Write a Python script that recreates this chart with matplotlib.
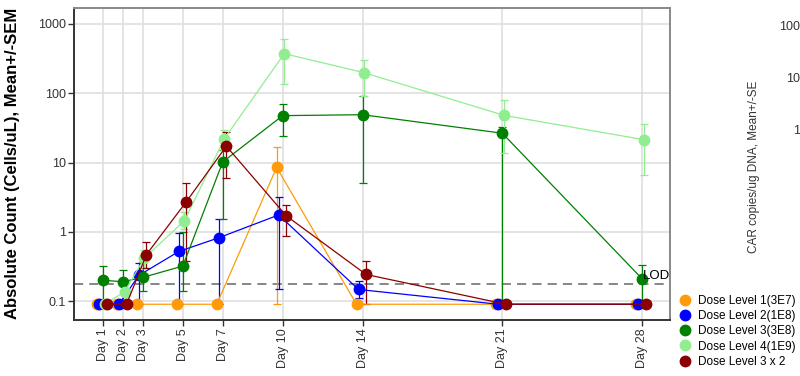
import matplotlib
matplotlib.use("Agg")
import matplotlib.pyplot as plt
from matplotlib.lines import Line2D
import numpy as np

plt.rcParams['font.family'] = ['Liberation Sans', 'DejaVu Sans']

days = [1, 2, 3, 5, 7, 10, 14, 21, 28]
day_labels = ['Day 1', 'Day 2', 'Day 3', 'Day 5', 'Day 7', 'Day 10', 'Day 14', 'Day 21', 'Day 28']

names = ['Dose Level 1(3E7)', 'Dose Level 2(1E8)', 'Dose Level 3(3E8)',
         'Dose Level 4(1E9)', 'Dose Level 3 x 2']
colors = ['#FF9A0A', '#0000FF', '#008000', '#90EE90', '#8B0000']
offsets = [-0.3, -0.2, 0.0, 0.08, 0.18]

# mean, lower bar end, upper bar end
dl1 = [0.09, 0.09, 0.09, 0.09, 0.09, 8.5, 0.09, 0.09, 0.09]
dl1_lo = [0.09, 0.09, 0.09, 0.09, 0.09, 0.09, 0.09, 0.09, 0.09]
dl1_hi = [0.09, 0.09, 0.09, 0.09, 0.09, 17, 0.09, 0.09, 0.09]

dl2 = [0.09, 0.09, 0.235, 0.52, 0.82, 1.75, 0.147, 0.09, 0.09]
dl2_lo = [0.09, 0.09, 0.09, 0.09, 0.09, 0.15, 0.11, 0.09, 0.09]
dl2_hi = [0.09, 0.09, 0.36, 0.95, 1.55, 3.2, 0.196, 0.09, 0.09]

dl3 = [0.2, 0.19, 0.22, 0.32, 10.2, 47.5, 49, 26.5, 0.21]
dl3_lo = [0.09, 0.09, 0.14, 0.14, 1.55, 24.5, 5.1, 0.09, 0.09]
dl3_hi = [0.32, 0.28, 0.37, 1.0, 15, 70, 91, 33, 0.33]

dl4 = [0.09, 0.136, 0.42, 1.44, 22, 373, 198, 48, 21.4]
dl4_lo = [0.09, 0.1, 0.3, 1.1, 15, 135, 90, 13.5, 6.7]
dl4_hi = [0.09, 0.18, 0.55, 1.9, 29, 612, 306, 81, 36]

dl32 = [0.09, 0.09, 0.47, 2.73, 17.2, 1.7, 0.242, 0.09, 0.09]
dl32_lo = [0.09, 0.09, 0.3, 0.38, 6.0, 0.86, 0.09, 0.09, 0.09]
dl32_hi = [0.09, 0.09, 0.71, 5.1, 28, 2.45, 0.38, 0.09, 0.09]

series = [(dl1, dl1_lo, dl1_hi), (dl2, dl2_lo, dl2_hi), (dl3, dl3_lo, dl3_hi),
          (dl4, dl4_lo, dl4_hi), (dl32, dl32_lo, dl32_hi)]
lod = 0.177

fig = plt.figure(figsize=(8, 3.76), dpi=100)
ax = fig.add_axes([74/800, 1-320/376, (670-74)/800, (320-8)/376])

for (y, lo, hi), c, off in zip(series, colors, offsets):
    y = np.array(y)
    yerr = [y - np.array(lo), np.array(hi) - y]
    ax.errorbar(np.array(days) + off, y, yerr=yerr, color=c, ecolor=c,
                marker='o', ms=7.5, lw=0.9, elinewidth=0.9, capsize=3,
                capthick=0.9, zorder=3)

ax.axhline(lod, color='#666666', lw=1.1, ls=(0, (6, 4)), zorder=2)
ax.text(28.05, 0.207, 'LOD', ha='left', va='baseline', fontsize=9.5, zorder=5)

ax.set_yscale('log')
ax.set_ylim(0.0533, 1700)
ax.set_xlim(-0.45, 29.4)
ax.set_yticks([0.1, 1, 10, 100, 1000])
ax.set_yticklabels(['0.1', '1', '10', '100', '1000'])
ax.yaxis.set_minor_locator(matplotlib.ticker.NullLocator())
ax.set_xticks(days)
ax.set_xticklabels(day_labels, rotation=90)
ax.tick_params(labelsize=9, colors='#333333', length=4, width=1, pad=2)
ax.grid(True, color='#dddddd', lw=1.1, zorder=0)
ax.set_axisbelow(True)
for s in ['left', 'bottom']:
    ax.spines[s].set_color('#333333')
    ax.spines[s].set_linewidth(1.4)
for s in ['top', 'right']:
    ax.spines[s].set_color('#888888')
    ax.spines[s].set_linewidth(1.4)

ax.set_ylabel('Absolute Count (Cells/uL), Mean+/-SEM', fontsize=12, fontweight='bold')
ax.yaxis.set_label_coords(20/800, 1-163/376, transform=fig.transFigure)

handles = [Line2D([], [], marker='o', ls='none', color=c, ms=7.5) for c in colors]
fig.legend(handles, names, loc='upper left', bbox_to_anchor=(680/800, 1-295/376),
           frameon=False, fontsize=8.5, handlelength=0.8, handletextpad=0.75,
           labelspacing=0.27, borderpad=0, borderaxespad=0)

# second panel, mostly cut off at the right edge
ax2 = fig.add_axes([808/800, 1-320/376, 0.2, (320-8)/376])
ax2.set_yscale('log')
ax2.set_ylim(0.0024, 2110)
ax2.set_yticks([10, 100, 1000])
ax2.set_yticklabels(['10', '100', '1000'])
ax2.yaxis.set_minor_locator(matplotlib.ticker.NullLocator())
ax2.tick_params(labelsize=9, colors='#333333', length=0, pad=1)
ax2.set_xticks([])
for s in ax2.spines.values():
    s.set_visible(False)
ax2.patch.set_visible(False)
ax2.set_ylabel('CAR copies/ug DNA, Mean+/-SE', fontsize=8.5, color='#333333')
ax2.yaxis.set_label_coords(760/800, 1-167/376, transform=fig.transFigure)

fig.savefig('out.png', dpi=100)
